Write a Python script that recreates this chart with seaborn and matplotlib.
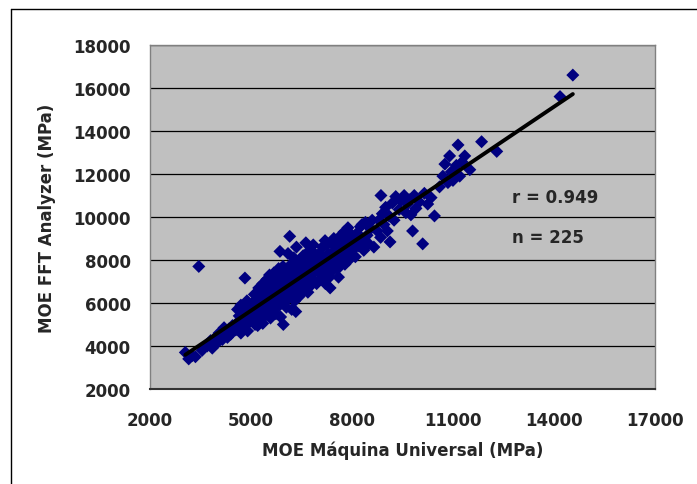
import numpy as np
import pandas as pd
import matplotlib
matplotlib.use("Agg")
import matplotlib.pyplot as plt
import seaborn as sns
from matplotlib.lines import Line2D

# MOE from the universal testing machine (x) vs FFT analyzer (y), MPa
moe_maquina = [
    3050, 3150, 3250, 3450, 3550, 3350,
    3700, 3800, 3850, 3950, 4000, 4100, 4150, 4250, 4300, 4350, 4400, 4450, 4200, 4050,
    4550, 4600, 4650, 4700, 4750, 4800, 4820, 4850, 4900, 4950, 4600, 4700, 4880, 4980, 4750, 4900,
    5020, 5050, 5080, 5100, 5120, 5150, 5180, 5200, 5230, 5250, 5280, 5300, 5320, 5350, 5380, 5400,
    5420, 5450, 5470, 5480, 5200, 5350, 5500, 5100,
    5520, 5540, 5560, 5580, 5600, 5620, 5640, 5660, 5680, 5700, 5720, 5740, 5760, 5780, 5800, 5820,
    5840, 5860, 5880, 5900, 5920, 5940, 5960, 5980, 5550, 5750, 5850, 5950,
    6010, 6030, 6050, 6070, 6090, 6110, 6130, 6150, 6170, 6190, 6210, 6230, 6250, 6270, 6290, 6310,
    6330, 6350, 6370, 6390, 6410, 6430, 6450, 6470, 6490, 6100, 6300, 6400,
    6510, 6530, 6550, 6570, 6590, 6610, 6630, 6650, 6670, 6690, 6710, 6730, 6750, 6770, 6790, 6810,
    6830, 6850, 6870, 6890, 6910, 6930, 6950, 6970, 6600, 6800,
    7010, 7030, 7060, 7090, 7120, 7150, 7180, 7210, 7240, 7270, 7300, 7330, 7360, 7390, 7420, 7450,
    7480, 7100, 7200, 7350, 7460, 7250,
    7520, 7550, 7580, 7610, 7640, 7670, 7700, 7730, 7760, 7790, 7820, 7850, 7880, 7910, 7940, 7970,
    7600, 7900,
    8020, 8060, 8100, 8150, 8200, 8250, 8300, 8350, 8400, 8450, 8500, 8550, 8600, 8650, 8860, 8300,
    8750, 8800, 8850, 8900, 8950, 9000, 9050, 9100, 9130, 9200, 9250, 9300, 9400, 9450,
    9550, 9600, 9650, 9700, 9750, 9800, 9850, 9900, 10000, 10100, 10150, 10250, 10350, 10450,
    10600, 10700, 10760, 10850, 10900, 10950, 11000, 11100, 11150, 11270, 11350, 11200,
    11500, 11850, 12300, 14180, 14560,
]
moe_fft = [
    3700, 3400, 3550, 7700, 3800, 3500,
    4000, 4250, 3900, 4400, 4150, 4500, 4300, 4650, 4400, 4800, 4550, 4950, 4850, 4600,
    4750, 5100, 5400, 4600, 5250, 5600, 7160, 5000, 5800, 5400, 5700, 5900, 6100, 5150, 4850, 4700,
    5600, 6000, 5300, 6400, 5000, 5800, 6200, 5500, 6700, 5900, 5200, 6300, 5700, 6900, 6000, 5400,
    6600, 5800, 7100, 6200, 4950, 5050, 5600, 5750,
    6400, 5900, 6800, 5300, 6100, 7000, 6500, 5700, 7400, 6200, 6700, 5500, 7200, 6000, 6600, 7600,
    6300, 8400, 5350, 6900, 6100, 7300, 5000, 6700, 7300, 6900, 5900, 7700,
    6400, 7100, 5800, 6800, 7500, 6200, 7000, 9100, 6600, 7800, 5700, 7200, 6400, 8100, 6900, 7400,
    5600, 8600, 6700, 7600, 7000, 6300, 8000, 7300, 6800, 8300, 6100, 7900,
    7500, 6900, 8200, 7200, 6600, 7800, 8800, 7100, 7600, 6500, 8400, 7400, 7900, 6800, 8100, 7300,
    7700, 8700, 7000, 8300, 7500, 7900, 6900, 8000, 7000, 7600,
    7600, 8300, 7100, 7900, 8600, 7400, 8100, 6900, 8700, 7700, 8300, 7200, 8000, 8800, 7500, 8400,
    7800, 7300, 8900, 6700, 9000, 7900,
    8100, 8700, 7600, 8400, 9100, 7900, 8600, 8200, 9300, 7800, 8900, 8500, 9500, 8000, 8700, 9200,
    7200, 8300,
    8450, 8850, 8150, 9250, 8650, 9550, 8950, 8450, 9750, 9150, 8750, 9450, 9850, 8600, 11000, 9650,
    9350, 9850, 9050, 10150, 9650, 10450, 9350, 10050, 8840, 10650, 9850, 10950, 10350, 10750,
    11000, 10200, 10600, 10800, 10100, 9350, 11000, 10400, 10700, 8750, 11100, 10600, 10900, 10050,
    11400, 11900, 12460, 11600, 12840, 12100, 11700, 12400, 13350, 12560, 12840, 11900,
    12200, 13500, 13050, 15600, 16600,
]

x_ticks = [2000, 5000, 8000, 11000, 14000, 17000]
y_ticks = [2000, 4000, 6000, 8000, 10000, 12000, 14000, 16000, 18000]

df = pd.DataFrame({"maquina": moe_maquina, "fft": moe_fft})

sns.set_style("white")
plt.rcParams["font.family"] = ["DejaVu Sans"]

fig = plt.figure(figsize=(6.97, 4.85), dpi=100)
ax = fig.add_axes([0.2152, 0.1959, 0.7245, 0.7093])
ax.set_facecolor("#C0C0C0")

sns.regplot(data=df, x="maquina", y="fft", ax=ax, ci=None, marker="D",
            scatter_kws={"s": 44, "color": "#000080", "edgecolor": "none", "alpha": 1},
            line_kws={"color": "black", "linewidth": 2.8})

ax.set_xlim(2000, 17000)
ax.set_ylim(2000, 18000)
ax.set_xticks(x_ticks)
ax.set_yticks(y_ticks)
ax.set_xticklabels([str(v) for v in x_ticks], fontsize=12, fontweight="bold")
ax.set_yticklabels([str(v) for v in y_ticks], fontsize=12, fontweight="bold")
ax.tick_params(axis="both", direction="out", length=5, width=1, color="#404040")
ax.tick_params(axis="y", pad=9)
ax.tick_params(axis="x", pad=11)

for v in y_ticks[1:]:
    ax.axhline(v, color="black", linewidth=0.9, zorder=0)

for side in ["left", "right", "top"]:
    ax.spines[side].set_color("#808080")
    ax.spines[side].set_linewidth(1)
ax.spines["bottom"].set_color("#333333")
ax.spines["bottom"].set_linewidth(1.5)

ax.set_xlabel("MOE Máquina Universal (MPa)", fontsize=12, fontweight="bold", labelpad=8)
ax.set_ylabel("MOE FFT Analyzer (MPa)", fontsize=12, fontweight="bold", labelpad=12)

ax.text(0.717, 0.558, "r = 0.949", transform=ax.transAxes,
        fontsize=12, fontweight="bold", va="center")
ax.text(0.717, 0.442, "n = 225", transform=ax.transAxes,
        fontsize=12, fontweight="bold", va="center")

# chart-area border (only left and top edges are inside the image)
fig.add_artist(Line2D([11 / 697, 11 / 697], [0, 1 - 10 / 485], color="black",
                      linewidth=1, transform=fig.transFigure))
fig.add_artist(Line2D([11 / 697, 1], [1 - 10 / 485, 1 - 10 / 485], color="black",
                      linewidth=1, transform=fig.transFigure))

fig.savefig("out.png", dpi=100)
plt.close(fig)
